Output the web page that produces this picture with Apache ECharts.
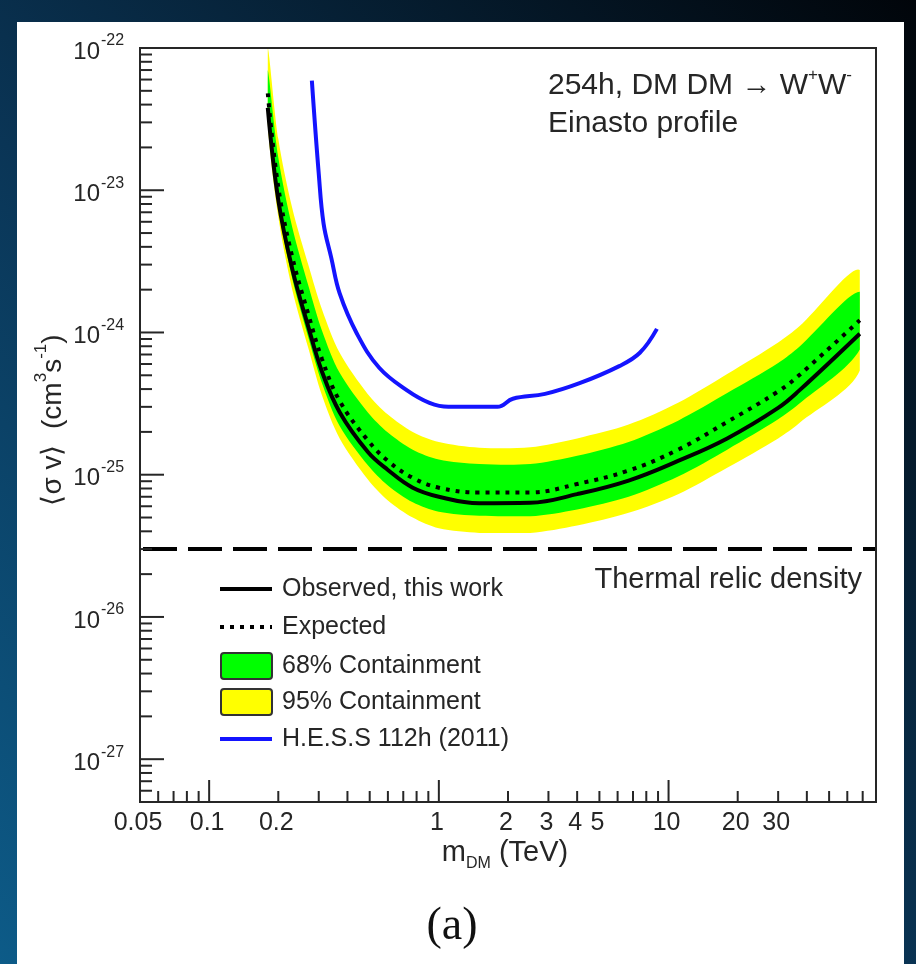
<!DOCTYPE html>
<html>
<head>
<meta charset="utf-8">
<script src="https://cdn.jsdelivr.net/npm/echarts@6/dist/echarts.min.js"></script>
<style>
  html, body { margin: 0; padding: 0; }
  #chart { width: 916px; height: 964px; }
</style>
</head>
<body>
<div id="chart"></div>
<script>
// dark matter mass (TeV) used by the limit curves and bands
const MASS = [0.18, 0.2, 0.23, 0.27, 0.31, 0.37, 0.49, 0.6, 0.77, 1.0, 1.5, 2.5, 4, 6.7, 11, 18, 30, 37, 68];
const OBSERVED = [3.8e-23, 8.5e-24, 2.8e-24, 1.1e-24, 5.3e-25, 2.75e-25, 1.45e-25, 1.08e-25, 8.1e-26, 7.0e-26, 6.3e-26, 6.35e-26, 7.3e-26, 9.1e-26, 1.25e-25, 1.8e-25, 2.95e-25, 3.9e-25, 9.8e-25];
const EXPECTED = [4.8e-23, 1.05e-23, 3.4e-24, 1.35e-24, 6.5e-25, 3.3e-25, 1.75e-25, 1.25e-25, 9.5e-26, 8.1e-26, 7.5e-26, 7.5e-26, 8.6e-26, 1.07e-25, 1.5e-25, 2.35e-25, 3.85e-25, 5.0e-25, 1.22e-24];
// containment bands
const YELLOW_HI = [1.0e-22, 2.3e-23, 7.5e-24, 3.0e-24, 1.45e-24, 7.2e-25, 3.7e-25, 2.65e-25, 2.0e-25, 1.7e-25, 1.55e-25, 1.56e-25, 1.8e-25, 2.25e-25, 3.2e-25, 5.1e-25, 8.5e-25, 1.1e-24, 2.75e-24];
const GREEN_HI = [7.0e-23, 1.7e-23, 5.5e-24, 2.15e-24, 1.03e-24, 5.2e-25, 2.75e-25, 1.98e-25, 1.5e-25, 1.28e-25, 1.19e-25, 1.19e-25, 1.36e-25, 1.7e-25, 2.4e-25, 3.75e-25, 6.1e-25, 7.9e-25, 1.93e-24];
const GREEN_LO = [3.4e-23, 7.5e-24, 2.4e-24, 9.3e-25, 4.4e-25, 2.2e-25, 1.17e-25, 8.4e-26, 6.4e-26, 5.5e-26, 5.15e-26, 5.1e-26, 5.7e-26, 7.0e-26, 9.7e-26, 1.5e-25, 2.45e-25, 3.15e-25, 7.6e-25];
const YELLOW_LO = [2.9e-23, 6.5e-24, 2.0e-24, 7.8e-25, 3.6e-25, 1.8e-25, 9.3e-26, 6.6e-26, 5.0e-26, 4.2e-26, 3.9e-26, 3.9e-26, 4.4e-26, 5.4e-26, 7.3e-26, 1.12e-25, 1.8e-25, 2.3e-25, 5.4e-25];
// H.E.S.S 112h (2011)
const HESS_MASS = [0.28, 0.3, 0.315, 0.34, 0.37, 0.44, 0.55, 0.73, 0.91, 1.1, 1.8, 2.1, 2.9, 4.1, 6.1, 7.5, 8.9];
const HESS = [5.9e-23, 1.31e-23, 5.8e-24, 3.36e-24, 1.88e-24, 9.8e-25, 5.65e-25, 3.9e-25, 3.2e-25, 3.0e-25, 3.0e-25, 3.42e-25, 3.7e-25, 4.4e-25, 5.8e-25, 7.2e-25, 1.06e-24];
const THERMAL_RELIC = 3e-26;

// axes
const X_MIN = 0.05, X_MAX = 80;
const Y_MIN = 5e-28, Y_MAX = 1e-22;
const X_TICK_LABELS = [0.05, 0.1, 0.2, 1, 2, 3, 4, 5, 10, 20, 30];
const Y_DECADES = [-27, -26, -25, -24, -23, -22];

const FONT = '"Liberation Sans", Arial, sans-serif';
const INK = '#262626';

const pairs = (xs, ys) => xs.map((x, i) => [x, ys[i]]);

// all minor/major ticks: k * 10^d inside the axis range
const logTicks = (lo, hi, d0, d1) => {
  const out = [];
  for (let d = d0; d <= d1; d++) {
    for (let k = 1; k <= 9; k++) {
      const v = k * Math.pow(10, d);
      if (v > lo * 1.0001 && v <= hi * 1.0001) out.push({ v: v, major: k === 1 });
    }
  }
  return out;
};
const X_TICKS = logTicks(X_MIN, X_MAX, -2, 1);
const Y_TICKS = logTicks(Y_MIN, Y_MAX, -28, -23);

const band = (hi, lo, color) => (params, api) => {
  if (params.dataIndex !== 0) return null;
  const pts = [];
  for (let i = 0; i < MASS.length; i++) pts.push(api.coord([MASS[i], hi[i]]));
  for (let i = MASS.length - 1; i >= 0; i--) pts.push(api.coord([MASS[i], lo[i]]));
  const xs = pts.map(p => p[0]), ys = pts.map(p => p[1]);
  return {
    type: 'polygon',
    shape: {
      points: pts, smooth: 0.3,
      smoothConstraint: [[Math.min(...xs), Math.min(...ys)], [Math.max(...xs), Math.max(...ys)]]
    },
    style: { fill: color, stroke: null }
  };
};

const textStyle = (text, x, y, size, align, valign, extra) => Object.assign({
  text: text, x: x, y: y, fill: INK,
  font: size + 'px ' + FONT,
  align: align, textAlign: align,
  verticalAlign: valign, textVerticalAlign: valign
}, extra || {});

const axesItem = (params, api) => {
  const cs = params.coordSys;
  const left = cs.x, top = cs.y, right = cs.x + cs.width, bottom = cs.y + cs.height;
  const line = { stroke: INK, lineWidth: 2 };
  const kids = [];
  // thermal relic density
  const ty = api.coord([1, THERMAL_RELIC])[1];
  kids.push({
    type: 'line', shape: { x1: left + 3, y1: ty, x2: right, y2: ty },
    style: { stroke: '#000', lineWidth: 4, lineDash: [34, 11] }
  });
  X_TICKS.forEach(t => {
    const px = api.coord([t.v, 1e-25])[0];
    kids.push({ type: 'line', shape: { x1: px, y1: bottom, x2: px, y2: bottom - (t.major ? 22 : 11) }, style: line });
  });
  Y_TICKS.forEach(t => {
    const py = api.coord([1, t.v])[1];
    kids.push({ type: 'line', shape: { x1: left, y1: py, x2: left + (t.major ? 24 : 12), y2: py }, style: line });
  });
  X_TICK_LABELS.forEach(v => {
    const px = api.coord([v, 1e-25])[0];
    kids.push({ type: 'text', style: textStyle(String(v), px - 2, bottom + 21, 25, 'center', 'middle') });
  });
  Y_DECADES.forEach(e => {
    const py = api.coord([1, Math.pow(10, e)])[1];
    kids.push({ type: 'text', style: textStyle('10', left - 40, py + 4, 24, 'right', 'middle') });
    kids.push({ type: 'text', style: textStyle('-' + (-e), left - 39, py - 7, 16, 'left', 'middle') });
  });
  kids.push({
    type: 'rect',
    shape: { x: left, y: top, width: cs.width, height: cs.height },
    style: { fill: null, stroke: INK, lineWidth: 2 }
  });
  return { type: 'group', children: kids };
};

const legendRows = [
  { y: 589, kind: 'line', color: '#000', dash: null, label: 'Observed, this work' },
  { y: 627, kind: 'line', color: '#000', dash: [4, 6], label: 'Expected' },
  { y: 666, kind: 'box', color: '#00ff00', label: '68% Containment' },
  { y: 702, kind: 'box', color: '#ffff00', label: '95% Containment' },
  { y: 739, kind: 'line', color: '#1414ff', dash: null, label: 'H.E.S.S 112h (2011)' }
];
const legendGraphics = [];
legendRows.forEach(r => {
  if (r.kind === 'line') {
    legendGraphics.push({
      type: 'line', z: 100,
      shape: { x1: 220, y1: r.y, x2: 272, y2: r.y },
      style: { stroke: r.color, lineWidth: 4, lineDash: r.dash }
    });
  } else {
    legendGraphics.push({
      type: 'rect', z: 100,
      shape: { x: 221, y: r.y - 13, width: 51, height: 26, r: 3 },
      style: { fill: r.color, stroke: '#333', lineWidth: 2 }
    });
  }
  legendGraphics.push({ type: 'text', z: 100, style: textStyle(r.label, 282, r.y, 25, 'left', 'middle') });
});

const chart = echarts.init(document.getElementById('chart'), null, { renderer: 'canvas' });

chart.setOption({
  animation: false,
  grid: { left: 140, right: 40, top: 48, bottom: 162, show: false },
  xAxis: {
    type: 'log', logBase: 10, min: X_MIN, max: X_MAX,
    axisLine: { show: false }, axisTick: { show: false },
    axisLabel: { show: false }, splitLine: { show: false }
  },
  yAxis: {
    type: 'log', logBase: 10, min: Y_MIN, max: Y_MAX,
    axisLine: { show: false }, axisTick: { show: false },
    axisLabel: { show: false }, splitLine: { show: false }
  },
  graphic: [
    {
      type: 'rect', z: -20, silent: true,
      shape: { x: 0, y: 0, width: 916, height: 964 },
      style: {
        fill: {
          type: 'linear', x: 0, y: 1, x2: 1, y2: 0,
          colorStops: [
            { offset: 0, color: '#0d5b88' },
            { offset: 0.45, color: '#0a3556' },
            { offset: 1, color: '#01050a' }
          ]
        }
      }
    },
    {
      type: 'rect', z: -10, silent: true,
      shape: { x: 17, y: 22, width: 887, height: 960 },
      style: { fill: '#ffffff' }
    },
    {
      type: 'text', z: 100,
      style: Object.assign(textStyle('', 548, 84, 30, 'left', 'middle'), {
        text: '{n|254h, DM DM \u2192 W}{s|+}{n|W}{s|-}',
        rich: {
          n: { fontSize: 30, fontFamily: FONT, lineHeight: 34, verticalAlign: 'bottom', fill: INK },
          s: { fontSize: 17, fontFamily: FONT, lineHeight: 14, verticalAlign: 'top', fill: INK }
        }
      })
    },
    { type: 'text', z: 100, style: textStyle('Einasto profile', 548, 124, 30, 'left', 'middle') },
    { type: 'text', z: 100, style: textStyle('Thermal relic density', 862, 580, 29, 'right', 'middle') },
    {
      type: 'text', z: 100,
      style: Object.assign(textStyle('', 505, 855, 29, 'center', 'middle'), {
        text: '{n|m}{d|DM}{n| (TeV)}',
        rich: {
          n: { fontSize: 29, fontFamily: FONT, lineHeight: 34, verticalAlign: 'top', fill: INK },
          d: { fontSize: 16, fontFamily: FONT, lineHeight: 14, verticalAlign: 'bottom', fill: INK }
        }
      })
    },
    {
      type: 'text', z: 100, x: 50, y: 420, rotation: Math.PI / 2,
      style: Object.assign(textStyle('', 0, 0, 28, 'center', 'middle'), {
        text: '{n|\u27E8\u03C3 v\u27E9  (cm}{s|3}{n|s}{s|-1}{n|)}',
        rich: {
          n: { fontSize: 28, fontFamily: FONT, lineHeight: 34, verticalAlign: 'bottom', fill: INK },
          s: { fontSize: 17, fontFamily: FONT, lineHeight: 14, verticalAlign: 'top', fill: INK }
        }
      })
    },
    {
      type: 'text', z: 100,
      style: textStyle('(a)', 452, 927, 46, 'center', 'middle', { font: '46px "Liberation Serif", "DejaVu Serif", serif', fill: '#111' })
    }
  ].concat(legendGraphics),
  series: [
    {
      name: '95% Containment', type: 'custom', z: 1, clip: true,
      renderItem: band(YELLOW_HI, YELLOW_LO, '#ffff00'),
      data: MASS.map((m, i) => [m, YELLOW_HI[i], YELLOW_LO[i]]),
      encode: { x: 0, y: [1, 2] }
    },
    {
      name: '68% Containment', type: 'custom', z: 2, clip: true,
      renderItem: band(GREEN_HI, GREEN_LO, '#00ff00'),
      data: MASS.map((m, i) => [m, GREEN_HI[i], GREEN_LO[i]]),
      encode: { x: 0, y: [1, 2] }
    },
    {
      name: 'Expected', type: 'line', z: 3, smooth: 0.4, showSymbol: false, symbol: 'none',
      data: pairs(MASS, EXPECTED),
      lineStyle: { color: '#000', width: 4, type: [4, 6] }
    },
    {
      name: 'Observed, this work', type: 'line', z: 4, smooth: 0.4, showSymbol: false, symbol: 'none',
      data: pairs(MASS, OBSERVED),
      lineStyle: { color: '#000', width: 4 }
    },
    {
      name: 'H.E.S.S 112h (2011)', type: 'line', z: 5, smooth: 0.4, showSymbol: false, symbol: 'none',
      data: pairs(HESS_MASS, HESS),
      lineStyle: { color: '#1414ff', width: 4 }
    },
    {
      name: 'axes', type: 'custom', z: 10, silent: true,
      renderItem: axesItem,
      data: [[1, 1e-25]]
    }
  ]
});
</script>
</body>
</html>
